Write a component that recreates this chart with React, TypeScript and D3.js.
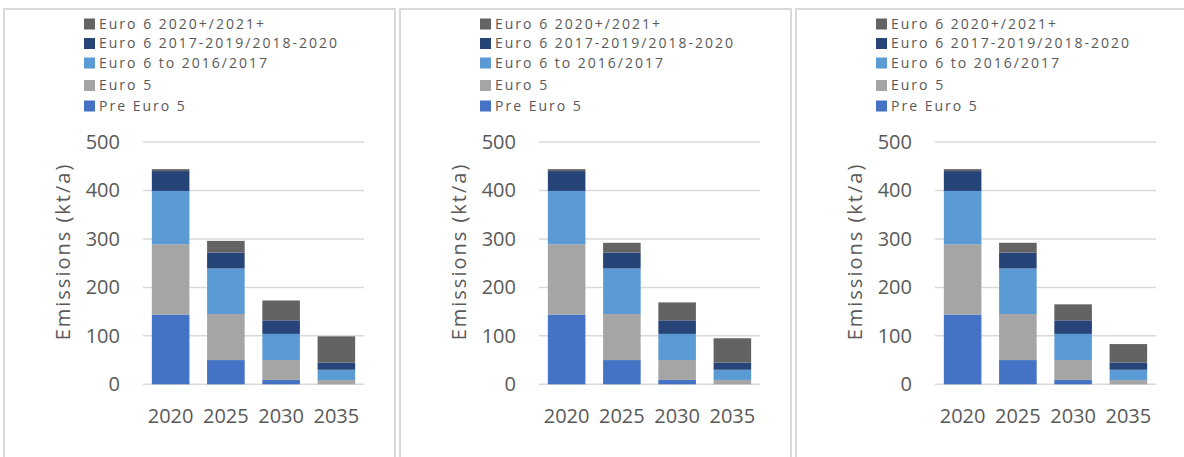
import React from "react";
import * as d3 from "d3";

const categories = ["2020", "2025", "2030", "2035"];
const seriesNames = [
  "Pre Euro 5",
  "Euro 5",
  "Euro 6 to 2016/2017",
  "Euro 6 2017-2019/2018-2020",
  "Euro 6 2020+/2021+",
];
const seriesColors = ["#4472C4", "#A5A5A5", "#5B9BD5", "#264478", "#636363"];

// Values per panel (scenario), per series, per category
const preEuro5 = [144, 50, 9, 0];
const euro5 = [145, 95, 41, 9];
const euro6To2016 = [110, 94, 54, 21];
const euro6_2017 = [41, 33, 28, 15];
const euro6_2020Panel1 = [4, 24, 41, 54];
const euro6_2020Panel2 = [4, 20, 37, 50];
const euro6_2020Panel3 = [4, 20, 33, 38];

const panels = [
  [preEuro5, euro5, euro6To2016, euro6_2017, euro6_2020Panel1],
  [preEuro5, euro5, euro6To2016, euro6_2017, euro6_2020Panel2],
  [preEuro5, euro5, euro6To2016, euro6_2017, euro6_2020Panel3],
];

const yTicks = [0, 100, 200, 300, 400, 500];
const yTitle = "Emissions (kt/a)";

const W = 1184;
const H = 457;
const PANEL_STEP = 396;
const FONT = "'Open Sans', 'Noto Sans', sans-serif";
const TEXT = "#595959";
const legendRowY = [106, 85.5, 63, 43.5, 24]; // series order bottom->top
const legendOrder = [4, 3, 2, 1, 0];

function Panel({ data, offset }: { data: number[][]; offset: number }) {
  const x = d3
    .scaleBand<string>()
    .domain(categories)
    .range([143, 364])
    .paddingInner(0.32)
    .paddingOuter(0.16);
  const y = d3.scaleLinear().domain([0, 500]).range([384.3, 142]);

  const rows = categories.map((c, i) => {
    const r: any = { cat: c };
    seriesNames.forEach((s, k) => (r[s] = data[k][i]));
    return r;
  });
  const stacked = d3.stack<any>().keys(seriesNames)(rows);

  return (
    <g transform={`translate(${offset},0)`}>
      <rect x={4} y={9} width={391} height={460} fill="none" stroke="#D9D9D9" strokeWidth={2} />
      {yTicks.map((t) => (
        <g key={t}>
          <line x1={143} x2={364} y1={y(t)} y2={y(t)} stroke="#D9D9D9" strokeWidth={1.5} />
          <text
            x={120}
            y={y(t)}
            dy="0.35em"
            textAnchor="end"
            fontFamily={FONT}
            fontSize={20}
            fill={TEXT}
          >
            {t}
          </text>
        </g>
      ))}
      {stacked.map((layer, k) => (
        <g key={layer.key} fill={seriesColors[k]}>
          {layer.map((d, i) => (
            <rect
              key={i}
              x={x(categories[i])}
              width={x.bandwidth()}
              y={y(d[1])}
              height={Math.max(0, y(d[0]) - y(d[1]))}
            />
          ))}
        </g>
      ))}
      {categories.map((c) => (
        <text
          key={c}
          x={(x(c) as number) + x.bandwidth() / 2}
          y={423}
          textAnchor="middle"
          fontFamily={FONT}
          fontSize={20}
          fill={TEXT}
        >
          {c}
        </text>
      ))}
      <text
        transform={`translate(63,251.5) rotate(-90)`}
        textAnchor="middle"
        dy="0.35em"
        fontFamily={FONT}
        fontSize={20}
        letterSpacing={2}
        fill={TEXT}
      >
        {yTitle}
      </text>
      {legendOrder.map((k) => (
        <g key={k}>
          <rect x={84} y={legendRowY[k] - 5.5} width={11} height={11} fill={seriesColors[k]} />
          <text
            x={99}
            y={legendRowY[k]}
            dy="0.35em"
            fontFamily={FONT}
            fontSize={14}
            letterSpacing={2}
            fill={TEXT}
          >
            {seriesNames[k]}
          </text>
        </g>
      ))}
    </g>
  );
}

export default function App() {
  return (
    <svg
      width={W}
      height={H}
      style={{ position: "absolute", left: 0, top: 0, background: "#fff" }}
    >
      <rect width={W} height={H} fill="#fff" />
      {panels.map((p, i) => (
        <Panel key={i} data={p} offset={i * PANEL_STEP} />
      ))}
    </svg>
  );
}
